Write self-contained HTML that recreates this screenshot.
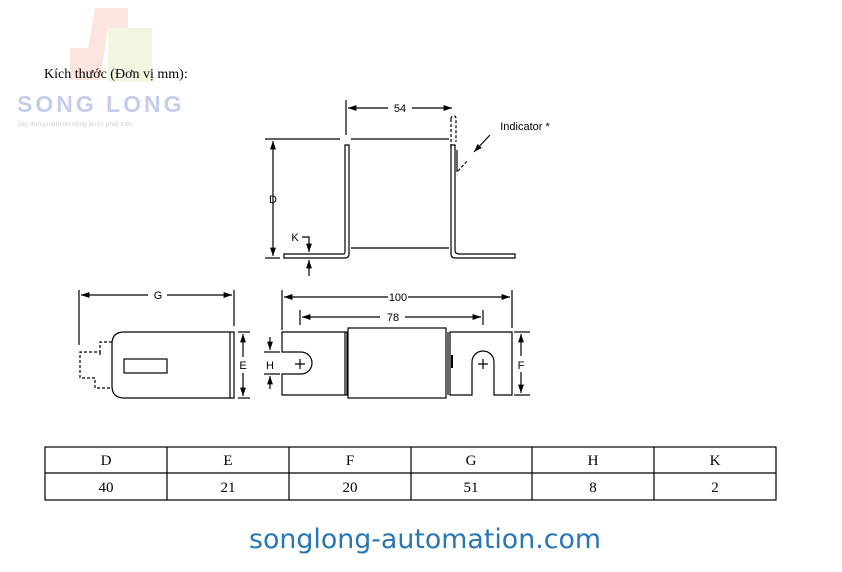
<!DOCTYPE html>
<html><head><meta charset="utf-8"><style>
body{margin:0;width:842px;height:572px;background:#fff;overflow:hidden;position:relative;font-family:"Liberation Sans",sans-serif}
svg{position:absolute;left:0;top:0}
</style></head><body>
<svg width="842" height="572" viewBox="0 0 842 572">
<defs><marker id="a" viewBox="0 0 10 10" refX="10" refY="5" markerWidth="7" markerHeight="7" orient="auto-start-reverse"><path d="M0,1.5 L10,5 L0,8.5 z" fill="#000"/></marker></defs>
<!-- logo -->
<path d="M70,48 L88,48 L95,8 L128,8 L128,28 L108,28 L105,48 L100,80 L70,80 z" fill="#fbd9d2" opacity="0.7"/>
<rect x="108" y="28" width="44" height="54" fill="#eef4d8" opacity="0.8"/>
<text x="17" y="112" font-size="23" font-weight="bold" fill="#c6cde9" letter-spacing="3">SONG LONG</text>
<text x="18" y="126" font-size="6.5" fill="#cfcfcf">xây dựng niềm tin-vững bước phát triển</text>
<text x="44" y="78" font-family="Liberation Serif,serif" font-size="14" fill="#000">Kích thước (Đơn vị mm):</text>
<g stroke="#000" stroke-width="1.2" fill="none">
<line x1="346" y1="100" x2="346" y2="135"/>
<line x1="348" y1="108" x2="388" y2="108" marker-start="url(#a)"/>
<line x1="412" y1="108" x2="452" y2="108" marker-end="url(#a)"/>
<path d="M451,119 L451,147" stroke-dasharray="3,2"/>
<path d="M451,119 Q451,116 454,116 Q456,116 456,119 L456,142" stroke-dasharray="3,2"/>
<line x1="265" y1="139" x2="340" y2="139"/>
<line x1="351" y1="139" x2="449" y2="139"/>
<line x1="351" y1="248" x2="449" y2="248"/>
<path d="M345,145 L349,145 L349,254 Q349,258 345,258 L284,258 L284,254 L344,254 Q345,254 345,250 z"/>
<path d="M451,145 L455,145 L455,250 Q455,254 459,254 L515,254 L515,258 L455,258 Q451,258 451,254 z"/>
<line x1="457" y1="150" x2="457" y2="172"/>
<line x1="458" y1="171" x2="468" y2="160" stroke-dasharray="3,2"/>
<line x1="490" y1="135" x2="474" y2="152" marker-end="url(#a)"/>
<line x1="273" y1="141" x2="273" y2="256" marker-start="url(#a)" marker-end="url(#a)"/>
<line x1="265" y1="258" x2="280" y2="258"/>
<path d="M302,237 L309,237 L309,252" marker-end="url(#a)"/>
<line x1="309" y1="276" x2="309" y2="260" marker-end="url(#a)"/>
<line x1="79" y1="290" x2="79" y2="345"/>
<line x1="234" y1="290" x2="234" y2="326"/>
<line x1="81" y1="295" x2="148" y2="295" marker-start="url(#a)"/>
<line x1="167" y1="295" x2="232" y2="295" marker-end="url(#a)"/>
<path d="M124,332 L234,332 L234,398 L124,398 Q112,398 112,386 L112,344 Q112,332 124,332 z"/>
<line x1="230" y1="332" x2="230" y2="398"/>
<rect x="124" y="359" width="43" height="14"/>
<path d="M112,342 L100,342 L100,352 L80,352 L80,378 L95,378 L95,388 L112,388" stroke-dasharray="3,2"/>
<line x1="100" y1="352" x2="100" y2="357" stroke-dasharray="3,2"/>
<line x1="238" y1="332" x2="250" y2="332"/>
<line x1="238" y1="398" x2="250" y2="398"/>
<line x1="243" y1="334" x2="243" y2="357" marker-start="url(#a)"/>
<line x1="243" y1="373" x2="243" y2="396" marker-end="url(#a)"/>
<line x1="282" y1="290" x2="282" y2="330"/>
<line x1="512" y1="290" x2="512" y2="328"/>
<line x1="300" y1="310" x2="300" y2="325"/>
<line x1="483" y1="310" x2="483" y2="325"/>
<line x1="284" y1="297" x2="388" y2="297" marker-start="url(#a)"/>
<line x1="408" y1="297" x2="510" y2="297" marker-end="url(#a)"/>
<line x1="302" y1="317" x2="380" y2="317" marker-start="url(#a)"/>
<line x1="405" y1="317" x2="481" y2="317" marker-end="url(#a)"/>
<path d="M282,332 L347,332 L347,395 L282,395 L282,374 L301,374 A11,11 0 0 0 301,352 L282,352 z"/>
<line x1="345" y1="332" x2="345" y2="395"/>
<rect x="348" y="328" width="98" height="70"/>
<path d="M450,332 L512,332 L512,395 L494,395 L494,362 A11,11 0 0 0 472,362 L472,395 L450,395 z"/>
<line x1="448" y1="332" x2="448" y2="395"/>
<line x1="452" y1="355" x2="452" y2="368" stroke-width="2"/>
<path d="M295,364 L305,364 M300,359 L300,369 M478,364 L488,364 M483,359 L483,369"/>
<line x1="264" y1="352" x2="280" y2="352"/>
<line x1="264" y1="374" x2="280" y2="374"/>
<line x1="270" y1="337" x2="270" y2="350" marker-end="url(#a)"/>
<line x1="270" y1="389" x2="270" y2="376" marker-end="url(#a)"/>
<line x1="514" y1="332" x2="530" y2="332"/>
<line x1="514" y1="395" x2="530" y2="395"/>
<line x1="521" y1="334" x2="521" y2="356" marker-start="url(#a)"/>
<line x1="521" y1="372" x2="521" y2="393" marker-end="url(#a)"/>
</g>
<g font-size="11" fill="#000" text-anchor="middle">
<text x="400" y="112">54</text>
<text x="525" y="130">Indicator *</text>
<text x="273" y="203">D</text>
<text x="295" y="241">K</text>
<text x="158" y="299">G</text>
<text x="243" y="369">E</text>
<text x="398" y="301">100</text>
<text x="393" y="321">78</text>
<text x="270" y="369">H</text>
<text x="521" y="369">F</text>
</g>
<g stroke="#000" stroke-width="1.2" fill="none">
<rect x="45" y="447" width="731" height="53"/>
<line x1="45" y1="473" x2="776" y2="473"/>
<line x1="167" y1="447" x2="167" y2="500"/>
<line x1="289" y1="447" x2="289" y2="500"/>
<line x1="411" y1="447" x2="411" y2="500"/>
<line x1="532" y1="447" x2="532" y2="500"/>
<line x1="654" y1="447" x2="654" y2="500"/>
</g>
<g font-family="Liberation Serif,serif" font-size="15" text-anchor="middle" fill="#000">
<text x="106" y="465">D</text><text x="228" y="465">E</text><text x="350" y="465">F</text><text x="471" y="465">G</text><text x="593" y="465">H</text><text x="715" y="465">K</text>
<text x="106" y="492">40</text><text x="228" y="492">21</text><text x="350" y="492">20</text><text x="471" y="492">51</text><text x="593" y="492">8</text><text x="715" y="492">2</text>
</g>
<text x="425" y="548" font-family="DejaVu Sans,sans-serif" font-size="27" fill="#2777b3" text-anchor="middle" textLength="352" lengthAdjust="spacingAndGlyphs">songlong-automation.com</text>
</svg>
</body></html>
